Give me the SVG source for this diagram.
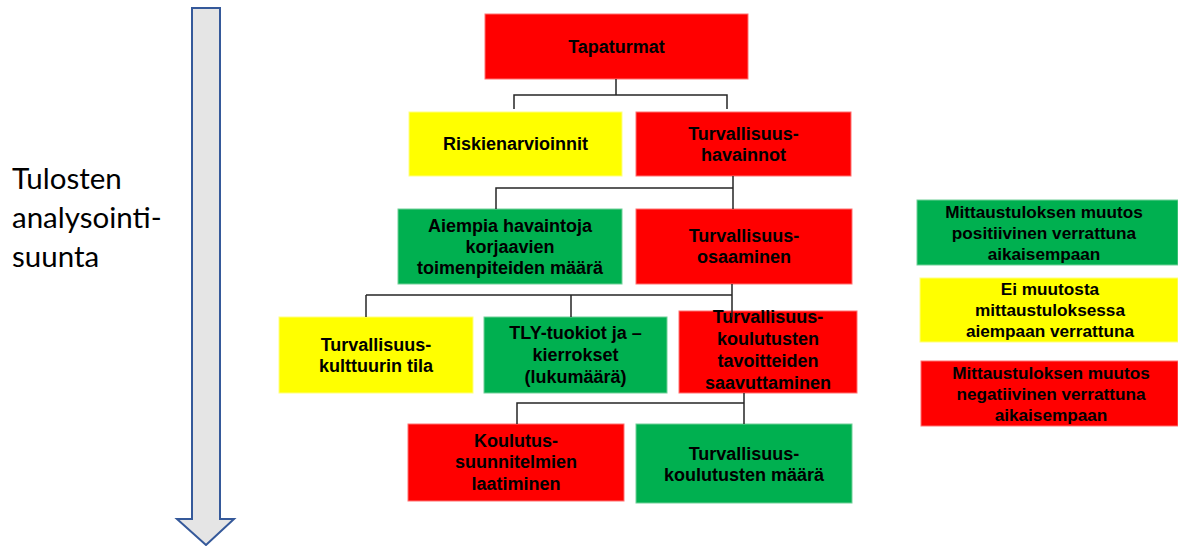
<svg xmlns="http://www.w3.org/2000/svg" width="1178" height="546" viewBox="0 0 1178 546">
  <style>
    .red { fill: #ff0000; stroke: #ff7070; stroke-width: 1; }
    .yel { fill: #ffff00; stroke: #ffff80; stroke-width: 1; }
    .grn { fill: #00b050; stroke: #70d098; stroke-width: 1; }
    .lbl { font-family: "Liberation Sans", Arial, sans-serif; font-weight: bold; font-size: 18px; fill: #000; text-anchor: middle; }
    .leg { font-size: 17.2px; }
    .side { font-family: Lato, "Liberation Sans", sans-serif; font-size: 29.5px; fill: #000; }
    .con { fill: none; stroke: #262626; stroke-width: 1.5; }
  </style>

  <rect width="1178" height="546" fill="#ffffff"/>

  <!-- direction arrow -->
  <g id="direction-arrow">
    <polygon points="192,8 220,8 220,519 234,519 206,545 177,519 192,519" fill="#e5e5e5" stroke="#35599a" stroke-width="2"/>
  </g>
  <g id="direction-label">
    <text class="side" x="12" y="189">Tulosten</text>
    <text class="side" x="12" y="228">analysointi-</text>
    <text class="side" x="12" y="267">suunta</text>
  </g>

  <!-- tree nodes -->
  <g id="tapaturmat">
    <rect class="red" x="485" y="14" width="263" height="65"/>
    <text class="lbl" x="616.5" y="52.5">Tapaturmat</text>
  </g>
  <g id="riskienarvioinnit">
    <rect class="yel" x="409" y="112" width="213" height="64"/>
    <text class="lbl" x="515.5" y="150">Riskienarvioinnit</text>
  </g>
  <g id="havainnot">
    <rect class="red" x="636" y="112" width="215" height="64"/>
    <text class="lbl" x="743.5" y="140">Turvallisuus-</text>
    <text class="lbl" x="743.5" y="161">havainnot</text>
  </g>
  <g id="korjaavat-toimenpiteet">
    <rect class="grn" x="398" y="209" width="224" height="75"/>
    <text class="lbl" x="510" y="231.5">Aiempia havaintoja</text>
    <text class="lbl" x="510" y="252.5">korjaavien</text>
    <text class="lbl" x="510" y="273.5">toimenpiteiden määrä</text>
  </g>
  <g id="osaaminen">
    <rect class="red" x="636" y="209" width="216" height="75"/>
    <text class="lbl" x="744" y="242">Turvallisuus-</text>
    <text class="lbl" x="744" y="263">osaaminen</text>
  </g>
  <g id="kulttuuri">
    <rect class="yel" x="279" y="317" width="194" height="76"/>
    <text class="lbl" x="376" y="351">Turvallisuus-</text>
    <text class="lbl" x="376" y="372">kulttuurin tila</text>
  </g>
  <g id="tly-tuokiot">
    <rect class="grn" x="484" y="317" width="183" height="76"/>
    <text class="lbl" x="575.5" y="339">TLY-tuokiot ja –</text>
    <text class="lbl" x="575.5" y="361">kierrokset</text>
    <text class="lbl" x="575.5" y="383">(lukumäärä)</text>
  </g>
  <g id="koulutustavoitteet">
    <rect class="red" x="679" y="311" width="178" height="82"/>
    <text class="lbl" x="768" y="323">Turvallisuus-</text>
    <text class="lbl" x="768" y="345">koulutusten</text>
    <text class="lbl" x="768" y="367">tavoitteiden</text>
    <text class="lbl" x="768" y="389">saavuttaminen</text>
  </g>
  <g id="koulutussuunnitelmat">
    <rect class="red" x="408" y="424" width="216" height="77"/>
    <text class="lbl" x="516" y="446.5">Koulutus-</text>
    <text class="lbl" x="516" y="468">suunnitelmien</text>
    <text class="lbl" x="516" y="489.5">laatiminen</text>
  </g>
  <g id="koulutusmaara">
    <rect class="grn" x="636" y="424" width="216" height="79"/>
    <text class="lbl" x="744" y="460">Turvallisuus-</text>
    <text class="lbl" x="744" y="481">koulutusten määrä</text>
  </g>

  <!-- connectors -->
  <g id="connectors">
    <path class="con" stroke-width="2.5" d="M616,79 V95 M514,109 V95 H727 V109"/>
    <path class="con" d="M733,176 V188 H496 V209 M733,188 V209"/>
    <path class="con" d="M732,284 V295 H366 M571,295 V317 M732,295 V317"/>
    <path class="con" stroke="#808080" d="M366,295 V317"/>
    <path class="con" d="M744,393 V403 H517 V424 M744,403 V424"/>
  </g>

  <!-- colour legend -->
  <g id="legend-positive">
    <rect class="grn" x="917" y="200" width="261" height="65"/>
    <text class="lbl leg" x="1044" y="217.5">Mittaustuloksen muutos</text>
    <text class="lbl leg" x="1044" y="238.5">positiivinen verrattuna</text>
    <text class="lbl leg" x="1044" y="259.5">aikaisempaan</text>
  </g>
  <g id="legend-neutral">
    <rect class="yel" x="920" y="278" width="258" height="64"/>
    <text class="lbl leg" x="1050" y="294.5">Ei muutosta</text>
    <text class="lbl leg" x="1050" y="315.5">mittaustuloksessa</text>
    <text class="lbl leg" x="1050" y="336.5">aiempaan verrattuna</text>
  </g>
  <g id="legend-negative">
    <rect class="red" x="921" y="361" width="257" height="65"/>
    <text class="lbl leg" x="1051" y="379">Mittaustuloksen muutos</text>
    <text class="lbl leg" x="1051" y="400">negatiivinen verrattuna</text>
    <text class="lbl leg" x="1051" y="421">aikaisempaan</text>
  </g>
</svg>
